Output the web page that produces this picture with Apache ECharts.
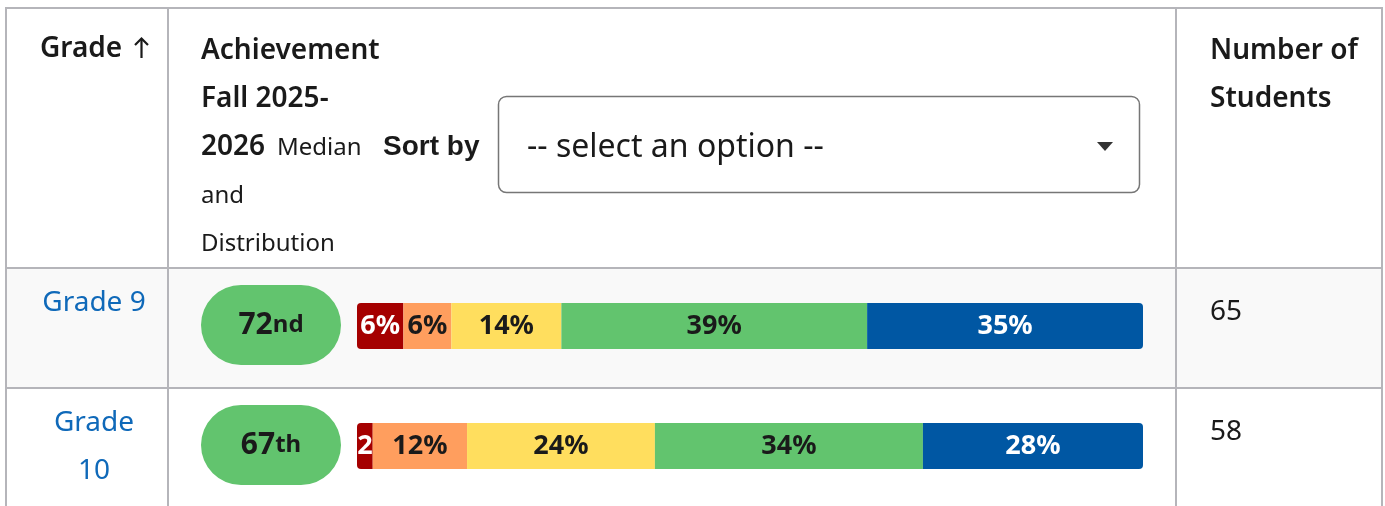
<!DOCTYPE html>
<html><head><meta charset="utf-8">
<script src="https://cdn.jsdelivr.net/npm/echarts@6/dist/echarts.min.js"></script>
<style>html,body{margin:0;padding:0;background:#fff;}#c{width:1385px;height:506px;}</style>
</head><body><div id="c"></div>
<script>
// ---- data ----
const grades = ['Grade 9', 'Grade 10'];
const medianPercentile = [72, 67];
const studentCounts = [65, 58];
const levelNames = ['Low', 'Low Average', 'Average', 'High Average', 'High'];
const lowPct = [5.9, 2.0];
const lowAvgPct = [6.1, 12.0];
const avgPct = [14.0, 23.9];
const highAvgPct = [38.9, 34.1];
const highPct = [35.1, 28.0];
const levelData = [lowPct, lowAvgPct, avgPct, highAvgPct, highPct];

// ---- style ----
const levelColors = ['#a50000', '#ff9e5e', '#ffde5e', '#62c46e', '#0057a3'];
const labelColors = ['#ffffff', '#1a1a1a', '#1a1a1a', '#1a1a1a', '#ffffff'];
const FONT = 'Noto Sans';
const TXT = '#1a1a1a';
const BORDER = '#b5b5ba';
const ROW_TOP = [268, 388];

function ordinal(n) {
  const m100 = n % 100, m10 = n % 10;
  if (m100 >= 11 && m100 <= 13) return 'th';
  return m10 === 1 ? 'st' : m10 === 2 ? 'nd' : m10 === 3 ? 'rd' : 'th';
}

const measureCtx = document.createElement('canvas').getContext('2d');
function wrapWords(text, font, maxW) {
  measureCtx.font = font;
  const words = text.split(' ');
  const out = [];
  let cur = '';
  words.forEach(w => {
    const t = cur ? cur + ' ' + w : w;
    if (cur && measureCtx.measureText(t).width > maxW) { out.push(cur); cur = w; }
    else cur = t;
  });
  if (cur) out.push(cur);
  return out.join('\n');
}
// clip a label to a pixel width, like an HTML cell with overflow hidden
function clipText(text, font, maxW) {
  measureCtx.font = font;
  let t = text;
  while (t.length > 1 && measureCtx.measureText(t).width > maxW + 1) t = t.slice(0, -1);
  return t;
}

const chart = echarts.init(document.getElementById('c'), null, {renderer: 'canvas'});

function txt(x, y, text, size, weight) {
  return {
    type: 'text', x: x, y: y, z: 5, silent: true,
    style: {text: text, fill: TXT, font: weight + ' ' + size + 'px "' + FONT + '"', verticalAlign: 'middle', align: 'left'}
  };
}

const graphics = [];
graphics.push({type: 'rect', z: 0, silent: true, shape: {x: 6, y: ROW_TOP[0], width: 1376, height: 120}, style: {fill: '#f9f9f9'}});
const lines = [
  [5, 8, 1383, 8], [6, 8, 6, 506], [168, 8, 168, 506], [1176, 8, 1176, 506], [1382, 8, 1382, 506],
  [6, 268, 1382, 268], [6, 388, 1382, 388]
];
lines.forEach(l => graphics.push({type: 'line', z: 1, silent: true, shape: {x1: l[0], y1: l[1], x2: l[2], y2: l[3]}, style: {stroke: BORDER, lineWidth: 2}}));

// header texts
graphics.push(txt(40, 49, 'Grade', 28, 600));
graphics.push({type: 'polyline', z: 5, silent: true, shape: {points: [[135, 45], [141.5, 38.5], [148, 45]]}, style: {stroke: TXT, lineWidth: 2.2, fill: null}});
graphics.push({type: 'line', z: 5, silent: true, shape: {x1: 141.5, y1: 39, x2: 141.5, y2: 58}, style: {stroke: TXT, lineWidth: 2.2}});
graphics.push(txt(201, 51, 'Achievement', 28, 600));
graphics.push(txt(201, 99, 'Fall 2025-', 28, 600));
graphics.push(txt(201, 147, '2026', 28, 600));
graphics.push(txt(277, 148, 'Median', 24, 'normal'));
graphics.push(txt(201, 196, 'and', 24, 'normal'));
graphics.push(txt(201, 244, 'Distribution', 24, 'normal'));
graphics.push({type: 'text', x: 383, y: 147.5, z: 5, silent: true, style: {text: 'Sort by', fill: TXT, font: 'bold 28px "Liberation Sans"', verticalAlign: 'middle'}});
graphics.push({type: 'rect', z: 3, silent: true, shape: {x: 498.5, y: 96.5, width: 641, height: 96, r: 8}, style: {fill: '#fff', stroke: '#767676', lineWidth: 1.5}});
graphics.push(txt(527, 148, '-- select an option --', 32, 'normal'));
graphics.push({type: 'polygon', z: 5, silent: true, shape: {points: [[1097, 142], [1113, 142], [1105, 151]]}, style: {fill: '#333'}});
graphics.push(txt(1210, 51, 'Number of', 28, 600));
graphics.push(txt(1210, 99, 'Students', 28, 600));

// row texts
grades.forEach((g, i) => {
  const f = 'normal 28px "' + FONT + '"';
  graphics.push({type: 'text', x: 94, y: ROW_TOP[i] + 11, z: 5, silent: true,
    style: {text: wrapWords(g, f, 112), fill: '#0f69b9', font: f, align: 'center', verticalAlign: 'top', lineHeight: 48}});
  graphics.push({type: 'text', x: 1210, y: ROW_TOP[i] + 20, z: 5, silent: true,
    style: {text: String(studentCounts[i]), fill: TXT, font: f, align: 'left', verticalAlign: 'top', lineHeight: 48}});
});

const LABEL_FONT = 'bold 27px "' + FONT + '"';
const barSeries = levelData.map((d, i) => ({
  type: 'bar', name: levelNames[i], stack: 'dist', xAxisIndex: 0, yAxisIndex: 0,
  barWidth: 46, data: d, silent: true, z: 4,
  itemStyle: {color: levelColors[i], borderRadius: i === 0 ? [4, 0, 0, 4] : (i === levelData.length - 1 ? [0, 4, 4, 0] : 0)},
  label: {show: true, position: 'inside', color: labelColors[i], fontFamily: FONT, fontWeight: 'bold', fontSize: 27,
    formatter: p => Math.round(p.value) + '%'},
  labelLayout: {hideOverlap: false},
  emphasis: {disabled: true}
}));

const option = {
  animation: false,
  backgroundColor: '#fff',
  textStyle: {fontFamily: FONT},
  grid: [
    {left: 357, width: 786, top: 266, height: 240, containLabel: false},
    {left: 201, width: 140, top: 265, height: 240, containLabel: false}
  ],
  xAxis: [
    {type: 'value', gridIndex: 0, min: 0, max: 100, show: false},
    {type: 'value', gridIndex: 1, min: -1, max: 1, show: false}
  ],
  yAxis: [
    {type: 'category', gridIndex: 0, data: grades, inverse: true, show: false},
    {type: 'category', gridIndex: 1, data: grades, inverse: true, show: false}
  ],
  graphic: {elements: graphics},
  series: barSeries.concat([{
    type: 'scatter', xAxisIndex: 1, yAxisIndex: 1, silent: true, z: 4,
    symbol: 'path://M40 0H100A40 40 0 0 1 100 80H40A40 40 0 0 1 40 0Z',
    symbolSize: [140, 80],
    itemStyle: {color: '#62c46e', opacity: 1},
    data: medianPercentile.map((m, i) => [0, grades[i], m]),
    label: {show: true, position: 'inside',
      formatter: p => '{n|' + p.value[2] + '}{s|' + ordinal(p.value[2]) + '}',
      rich: {
        n: {fontSize: 30, fontWeight: 'bold', color: TXT, fontFamily: FONT},
        s: {fontSize: 24, fontWeight: 'bold', color: TXT, fontFamily: FONT}
      }},
    emphasis: {disabled: true}
  }])
};
chart.setOption(option);

// clip each bar label to its own segment width (as the HTML cell overflow does)
const upd = levelData.map((d, i) => ({
  data: d.map((v, j) => {
    let cum = 0;
    for (let k = 0; k < i; k++) cum += levelData[k][j];
    const w = chart.convertToPixel({xAxisIndex: 0}, cum + v) - chart.convertToPixel({xAxisIndex: 0}, cum);
    const shown = clipText(Math.round(v) + '%', LABEL_FONT, w);
    return {value: v, label: {formatter: shown, z2: 100}};
  })
}));
chart.setOption({series: upd});
</script>
</body></html>
